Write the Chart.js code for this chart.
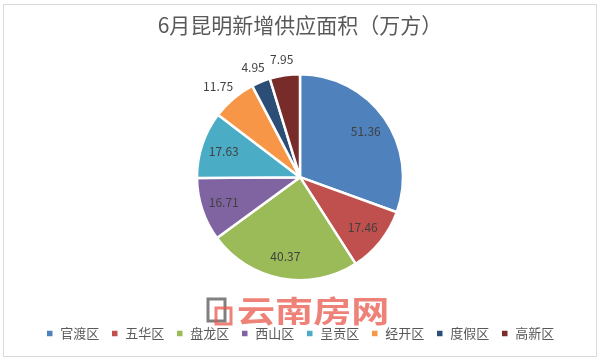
<!DOCTYPE html>
<html>
<head>
<meta charset="utf-8">
<script src="https://cdn.jsdelivr.net/npm/chart.js@4"></script>
<style>
  html, body { margin: 0; padding: 0; background: #fff; }
  #wrap { width: 600px; height: 360px; }
</style>
</head>
<body>
<div id="wrap"><canvas id="pieChart" width="600" height="360"></canvas></div>
<script>
const titleText = "6月昆明新增供应面积（万方）";
const districts = ["官渡区", "五华区", "盘龙区", "西山区", "呈贡区", "经开区", "度假区", "高新区"];
const supply = [51.36, 17.46, 40.37, 16.71, 17.63, 11.75, 4.95, 7.95];
const sliceColors = ["#4F81BD", "#C0504D", "#9BBB59", "#8064A2", "#4BACC6", "#F79646", "#2C4D75", "#772C2A"];

const FONT = "'Noto Sans CJK SC', 'Noto Sans', sans-serif";

// white page + thin gray frame
const framePlugin = {
  id: "frame",
  beforeDraw(chart) {
    const ctx = chart.ctx;
    ctx.save();
    ctx.fillStyle = "#fff";
    ctx.fillRect(0, 0, chart.width, chart.height);
    ctx.strokeStyle = "#d9d9d9";
    ctx.lineWidth = 1;
    ctx.strokeRect(3.5, 4.5, chart.width - 7, chart.height - 8);
    ctx.restore();
  }
};

// value labels: inside for big slices, outside for small ones
const valueLabels = {
  id: "valueLabels",
  afterDatasetsDraw(chart) {
    const ctx = chart.ctx;
    const meta = chart.getDatasetMeta(0);
    ctx.save();
    ctx.font = "12px " + FONT;
    ctx.fillStyle = "#404040";
    ctx.textAlign = "center";
    ctx.textBaseline = "middle";
    meta.data.forEach((arc, i) => {
      const p = arc.getProps(["x", "y", "startAngle", "endAngle", "outerRadius"], true);
      const mid = (p.startAngle + p.endAngle) / 2;
      const txt = supply[i].toFixed(2);
      const cos = Math.cos(mid), sin = Math.sin(mid);
      let x, y;
      if (supply[i] >= 12) {
        x = p.x + cos * p.outerRadius * 0.78;
        y = p.y + sin * p.outerRadius * 0.78;
      } else {
        const w = ctx.measureText(txt).width;
        x = p.x + cos * (p.outerRadius + 9) + cos * w / 2;
        y = p.y + sin * (p.outerRadius + 9) + sin * 7;
      }
      ctx.fillText(txt, x, y);
    });
    ctx.restore();
  }
};

// faint site watermark under the pie
const watermark = {
  id: "watermark",
  afterDraw(chart) {
    const ctx = chart.ctx;
    ctx.save();
    ctx.globalAlpha = 0.75;
    ctx.lineWidth = 3;
    ctx.strokeStyle = "#555";
    ctx.strokeRect(208, 299, 17, 22);
    ctx.strokeStyle = "#e8574b";
    ctx.strokeRect(216, 308, 15, 16);
    ctx.fillStyle = "#e8574b";
    ctx.font = "bold 30px " + FONT;
    ctx.textBaseline = "middle";
    ctx.textAlign = "left";
    ctx.translate(237, 311);
    ctx.scale(1.27, 1);
    ctx.fillText("云南房网", 0, 0);
    ctx.restore();
  }
};

new Chart(document.getElementById("pieChart"), {
  type: "pie",
  data: {
    labels: districts,
    datasets: [{
      data: supply,
      backgroundColor: sliceColors,
      borderColor: "#fff",
      borderWidth: 2.5,
      radius: 103
    }]
  },
  options: {
    responsive: false,
    animation: false,
    devicePixelRatio: 1,
    layout: { padding: { top: 0, bottom: 10, left: 0, right: 0 } },
    plugins: {
      title: {
        display: true,
        text: titleText,
        color: "#595959",
        font: { family: FONT, size: 21, weight: "normal" },
        padding: { top: 12, bottom: 39 }
      },
      legend: {
        position: "bottom",
        title: { display: true, text: "", font: { size: 12 }, padding: { top: 23, bottom: 0 } },
        labels: {
          color: "#595959",
          font: { family: FONT, size: 13 },
          boxWidth: 8,
          boxHeight: 8,
          padding: 11.5
        }
      },
      tooltip: { enabled: false }
    }
  },
  plugins: [framePlugin, valueLabels, watermark]
});
</script>
</body>
</html>
